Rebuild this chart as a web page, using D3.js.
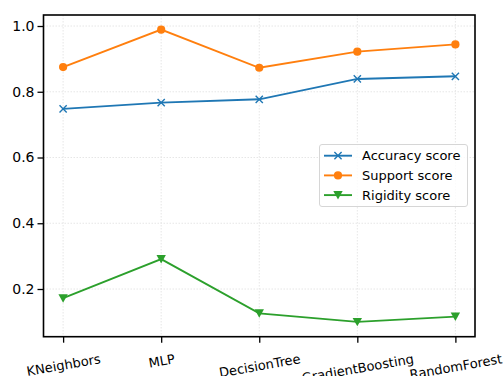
<!DOCTYPE html>
<html><head><meta charset="utf-8">
<script src="https://cdn.jsdelivr.net/npm/d3@7"></script>
<style>
html,body{margin:0;padding:0;background:#fff;}
svg{display:block;font-family:"DejaVu Sans",sans-serif;}
</style></head>
<body>
<svg id="c" width="504" height="376"></svg>
<script>
const categories = ["KNeighbors","MLP","DecisionTree","GradientBoosting","RandomForest"];
const accuracy = [0.748, 0.767, 0.777, 0.839, 0.847];
const support = [0.875, 0.989, 0.873, 0.922, 0.944];
const rigidity = [0.172, 0.291, 0.126, 0.100, 0.116];
const yTicks = [0.2, 0.4, 0.6, 0.8, 1.0];
const seriesNames = ["Accuracy score","Support score","Rigidity score"];

const svg = d3.select("#c");
const L = 43.5, R = 475, T = 15, B = 336.7;
const x = d3.scaleLinear().domain([-0.2, 4.2]).range([L, R]);
const y = d3.scaleLinear().domain([0.0549, 1.0335]).range([B, T]);

// grid
const g = svg.append("g");
g.selectAll(".gx").data(categories).join("line")
  .attr("x1",(d,i)=>x(i)).attr("x2",(d,i)=>x(i)).attr("y1",T).attr("y2",B)
  .attr("stroke","#e3e3e3").attr("stroke-width",0.9).attr("stroke-dasharray","1.5,1.5");
g.selectAll(".gy").data(yTicks).join("line")
  .attr("x1",L).attr("x2",R).attr("y1",d=>y(d)).attr("y2",d=>y(d))
  .attr("stroke","#e3e3e3").attr("stroke-width",0.9).attr("stroke-dasharray","1.5,1.5");

const series = [
  {name:seriesNames[0], vals:accuracy, color:"#1f77b4", marker:"x"},
  {name:seriesNames[1], vals:support, color:"#ff7f0e", marker:"o"},
  {name:seriesNames[2], vals:rigidity, color:"#2ca02c", marker:"v"}
];
const line = d3.line().x((d,i)=>x(i)).y(d=>y(d));

function drawMarker(sel, type, color, cx, cy){
  if(type==="o"){
    sel.append("circle").attr("cx",cx).attr("cy",cy).attr("r",4.1).attr("fill",color);
  } else if(type==="x"){
    const s=3.6;
    sel.append("path").attr("d",`M${cx-s},${cy-s}L${cx+s},${cy+s}M${cx-s},${cy+s}L${cx+s},${cy-s}`)
      .attr("stroke",color).attr("stroke-width",1.4).attr("fill","none");
  } else {
    const s=4.7;
    sel.append("path").attr("d",`M${cx-s},${cy-s*0.85}L${cx+s},${cy-s*0.85}L${cx},${cy+s*0.95}Z`)
      .attr("fill",color);
  }
}

series.forEach(s=>{
  svg.append("path").datum(s.vals).attr("d",line).attr("fill","none")
    .attr("stroke",s.color).attr("stroke-width",1.9);
  const mg = svg.append("g");
  s.vals.forEach((v,i)=>drawMarker(mg, s.marker, s.color, x(i), y(v)));
});

// axes frame
svg.append("rect").attr("x",L).attr("y",T).attr("width",R-L).attr("height",B-T)
  .attr("fill","none").attr("stroke","#000").attr("stroke-width",1.6);

// y axis
const yAxis = d3.axisLeft(y).tickValues(yTicks).tickFormat(d3.format(".1f")).tickSize(6).tickPadding(3);
const ya = svg.append("g").attr("transform",`translate(${L},0)`).call(yAxis);
ya.select(".domain").remove();
ya.selectAll(".tick line").attr("stroke","#000").attr("stroke-width",1.3);
ya.selectAll(".tick text").attr("font-family","DejaVu Sans").attr("font-size",14).attr("fill","#000");

// x axis
const xa = svg.append("g").attr("transform",`translate(0,${B})`)
  .call(d3.axisBottom(x).tickValues(d3.range(categories.length)).tickFormat(i=>categories[i]).tickSize(6));
xa.select(".domain").remove();
xa.selectAll(".tick line").attr("stroke","#000").attr("stroke-width",1.3);
const ang = 10*Math.PI/180, fs=13;
xa.selectAll(".tick text").each(function(){
  const t = d3.select(this);
  t.attr("font-family","DejaVu Sans").attr("font-size",fs).attr("fill","#000")
   .attr("dy",null).attr("y",0).attr("text-anchor","middle").attr("dominant-baseline","central");
  const w = this.getComputedTextLength();
  const hh = fs*1.16;
  const bh = w*Math.sin(ang) + hh*Math.cos(ang);
  const cy = 14.5 + bh/2;
  t.attr("transform",`translate(0,${cy}) rotate(-10)`);
});

// legend
const lg = svg.append("g");
lg.append("rect").attr("x",319.5).attr("y",144.5).attr("width",148).attr("height",62).attr("rx",2.5)
  .attr("fill","#fff").attr("fill-opacity",0.8).attr("stroke","#d6d6d6").attr("stroke-width",1);
series.forEach((s,i)=>{
  const yy = 155.7 + i*19.7;
  lg.append("line").attr("x1",324).attr("x2",352).attr("y1",yy).attr("y2",yy)
    .attr("stroke",s.color).attr("stroke-width",1.9);
  drawMarker(lg, s.marker, s.color, 338, yy);
  lg.append("text").attr("x",362).attr("y",yy).attr("dominant-baseline","central")
    .attr("font-family","DejaVu Sans").attr("font-size",13).attr("fill","#000").text(s.name);
});
</script>
</body></html>
